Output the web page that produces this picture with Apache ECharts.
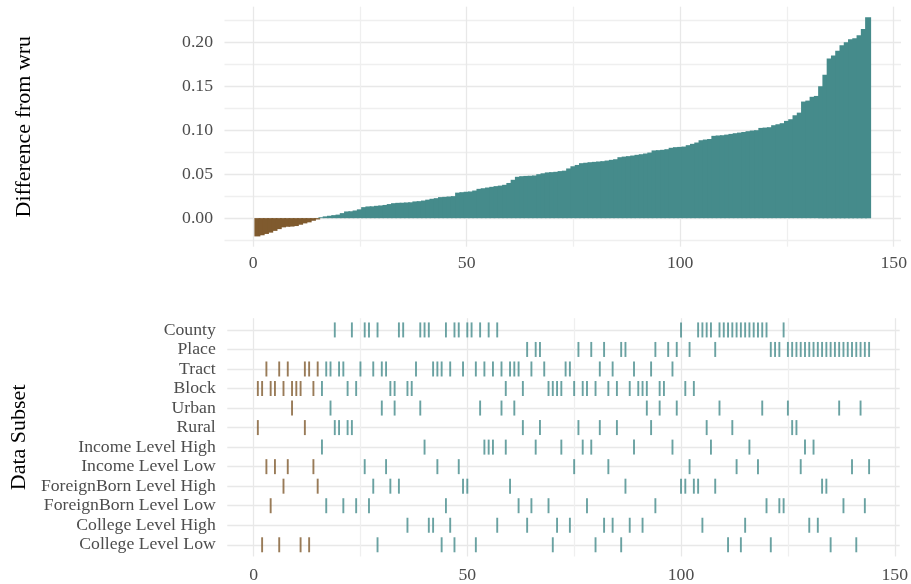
<!DOCTYPE html>
<html>
<head>
<meta charset="utf-8">
<script src="https://cdn.jsdelivr.net/npm/echarts@6/dist/echarts.min.js"></script>
<style>
  html, body { margin: 0; padding: 0; background: #ffffff; }
  #chart { width: 911px; height: 584px; }
</style>
</head>
<body>
<div id="chart"></div>
<script>
// Sorted difference from wru, one value per comparison (rank 1..144)
const diffFromWru = [
  -0.0208, -0.0195, -0.0180, -0.0165, -0.0145, -0.0125, -0.0105, -0.0098, -0.0096, -0.0090,
  -0.0075, -0.0060, -0.0048, -0.0030, -0.0015, 0.0010, 0.0020, 0.0027, 0.0034, 0.0040,
  0.0057, 0.0076, 0.0078, 0.0087, 0.0100, 0.0125, 0.0133, 0.0134, 0.0140, 0.0144,
  0.0150, 0.0160, 0.0170, 0.0174, 0.0175, 0.0178, 0.0180, 0.0190, 0.0193, 0.0200,
  0.0210, 0.0220, 0.0227, 0.0239, 0.0242, 0.0246, 0.0250, 0.0290, 0.0295, 0.0300,
  0.0303, 0.0314, 0.0333, 0.0340, 0.0348, 0.0356, 0.0364, 0.0370, 0.0379, 0.0400,
  0.0436, 0.0470, 0.0477, 0.0480, 0.0482, 0.0485, 0.0500, 0.0510, 0.0520, 0.0523,
  0.0527, 0.0535, 0.0540, 0.0565, 0.0590, 0.0605, 0.0625, 0.0630, 0.0636, 0.0640,
  0.0644, 0.0648, 0.0655, 0.0663, 0.0670, 0.0693, 0.0700, 0.0705, 0.0712, 0.0720,
  0.0727, 0.0735, 0.0746, 0.0770, 0.0773, 0.0777, 0.0784, 0.0800, 0.0807, 0.0810,
  0.0814, 0.0830, 0.0845, 0.0860, 0.0886, 0.0894, 0.0900, 0.0936, 0.0940, 0.0943,
  0.0950, 0.0958, 0.0966, 0.0973, 0.0980, 0.0989, 0.0996, 0.1000, 0.1026, 0.1030,
  0.1034, 0.1057, 0.1068, 0.1080, 0.1106, 0.1125, 0.1170, 0.1200, 0.1326, 0.1337,
  0.1380, 0.1390, 0.1500, 0.1630, 0.1815, 0.1850, 0.1905, 0.1966, 0.2000, 0.2036,
  0.2045, 0.2080, 0.2150, 0.2284
];

// Ranks (positions in the sorted list above) that belong to each data subset
const county = [19, 23, 26, 27, 29, 34, 35, 39, 40, 41, 45, 47, 48, 50, 51, 53, 55, 57,
  100, 104, 105, 106, 107, 109, 110, 111, 112, 113, 114, 115, 116, 117, 118, 119, 120, 124];
const place = [64, 66, 67, 76, 79, 82, 86, 87, 94, 97, 99, 102, 108, 121, 122, 123,
  125, 126, 127, 128, 129, 130, 131, 132, 133, 134, 135, 136, 137, 138, 139, 140, 141, 142, 143, 144];
const tract = [3, 6, 8, 12, 13, 15, 17, 18, 20, 21, 25, 28, 30, 31, 38, 42, 43, 44, 46, 49,
  52, 54, 56, 58, 60, 61, 62, 65, 68, 73, 74, 81, 84, 89, 93, 98];
const block = [1, 2, 4, 5, 7, 9, 10, 11, 14, 16, 22, 24, 32, 33, 36, 37, 59, 63, 69, 70,
  71, 72, 75, 77, 78, 80, 83, 85, 88, 90, 91, 92, 95, 96, 101, 103];
const urban = [9, 18, 30, 33, 39, 53, 58, 61, 92, 95, 99, 109, 119, 125, 137, 142];
const rural = [1, 12, 19, 20, 22, 23, 63, 67, 76, 81, 85, 93, 106, 112, 126, 127];
const incomeHigh = [16, 40, 54, 55, 56, 59, 66, 72, 77, 79, 89, 98, 107, 116, 129, 131];
const incomeLow = [3, 5, 8, 14, 26, 31, 43, 48, 75, 83, 102, 113, 118, 128, 140, 144];
const foreignBornHigh = [7, 15, 28, 32, 34, 49, 50, 60, 87, 100, 101, 103, 104, 108, 133, 134];
const foreignBornLow = [4, 17, 21, 24, 27, 45, 62, 65, 69, 78, 94, 120, 123, 124, 138, 143];
const collegeHigh = [36, 41, 42, 46, 57, 64, 71, 74, 82, 84, 88, 91, 105, 115, 130, 132];
const collegeLow = [2, 6, 11, 13, 29, 44, 47, 52, 70, 80, 86, 111, 114, 121, 135, 141];

// Row labels, top to bottom
const subsetNames = [
  'County', 'Place', 'Tract', 'Block', 'Urban', 'Rural',
  'Income Level High', 'Income Level Low',
  'ForeignBorn Level High', 'ForeignBorn Level Low',
  'College Level High', 'College Level Low'
];
const subsetRanks = [county, place, tract, block, urban, rural,
  incomeHigh, incomeLow, foreignBornHigh, foreignBornLow, collegeHigh, collegeLow];

// Axis breaks
const xLabelValues = [0, 50, 100, 150];
const xGridValues = [0, 25, 50, 75, 100, 125, 150];
const yLabelValues = [0, 0.05, 0.10, 0.15, 0.20];
const yGridValues = [-0.025, 0, 0.025, 0.05, 0.075, 0.10, 0.125, 0.15, 0.175, 0.20, 0.225];
const rowValues = subsetNames.map((_, i) => i);

const FONT = 'Liberation Serif';
const TEAL = '#458b8b';
const BROWN = '#7f5a2e';
const LABEL_COLOR = '#4d4d4d';
const colorFor = v => (v < 0 ? BROWN : TEAL);

const barData = diffFromWru.map((v, i) => ({
  value: [i + 1, v],
  itemStyle: { color: colorFor(v) }
}));

const tickData = [];
subsetRanks.forEach((ranks, row) => {
  ranks.forEach(rank => {
    tickData.push({
      value: [rank, row],
      itemStyle: { color: colorFor(diffFromWru[rank - 1]) }
    });
  });
});

const labelStyle = { color: LABEL_COLOR, fontFamily: FONT, fontSize: 17.7 };
const titleStyle = { color: '#000000', fontFamily: FONT, fontSize: 22 };
const gridLine = (colors) => ({ show: true, lineStyle: { color: colors, width: 1.3 } });

const chart = echarts.init(document.getElementById('chart'), null, { renderer: 'canvas' });
chart.setOption({
  animation: false,
  backgroundColor: '#ffffff',
  grid: [
    { left: 224.5, right: 10, top: 6.7, height: 240 },
    { left: 224.5, right: 10, top: 318.2, height: 239.6 }
  ],
  xAxis: [
    {
      gridIndex: 0, type: 'value', min: -6.7, max: 151.7,
      axisLine: { show: false },
      axisTick: { show: false, customValues: xGridValues },
      axisLabel: { customValues: xLabelValues, margin: 8, ...labelStyle },
      splitLine: gridLine(['#e8e8e8', '#efefef'])
    },
    {
      gridIndex: 1, type: 'value', min: -6.15, max: 151.15,
      axisLine: { show: false },
      axisTick: { show: false, customValues: xGridValues },
      axisLabel: { customValues: xLabelValues, margin: 9.5, ...labelStyle },
      splitLine: gridLine(['#e8e8e8', '#efefef'])
    }
  ],
  yAxis: [
    {
      gridIndex: 0, type: 'value', min: -0.0325, max: 0.2405,
      name: 'Difference from wru', nameLocation: 'middle', nameGap: 189, nameRotate: 90,
      nameTextStyle: titleStyle,
      axisLine: { show: false },
      axisTick: { show: false, customValues: yGridValues },
      axisLabel: {
        customValues: yLabelValues, margin: 11.5, ...labelStyle,
        formatter: v => v.toFixed(2)
      },
      splitLine: gridLine(['#efefef', '#e8e8e8'])
    },
    {
      gridIndex: 1, type: 'value', min: -0.6, max: 11.6, inverse: true,
      name: 'Data Subset', nameLocation: 'middle', nameGap: 189, nameRotate: 90,
      nameTextStyle: titleStyle,
      axisLine: { show: false },
      axisTick: { show: false, customValues: rowValues },
      axisLabel: {
        customValues: rowValues, margin: 11.5, ...labelStyle,
        formatter: v => subsetNames[Math.round(v)]
      },
      splitLine: gridLine(['#e8e8e8'])
    }
  ],
  series: [
    {
      // wide enough that neighbouring bars overlap and read as one filled profile
      type: 'bar', xAxisIndex: 0, yAxisIndex: 0,
      data: barData, barWidth: 6, z: 3,
      itemStyle: { borderWidth: 0 }
    },
    {
      type: 'scatter', xAxisIndex: 1, yAxisIndex: 1,
      data: tickData, symbol: 'rect', symbolSize: [1.9, 15], z: 3
    }
  ]
});
</script>
</body>
</html>
